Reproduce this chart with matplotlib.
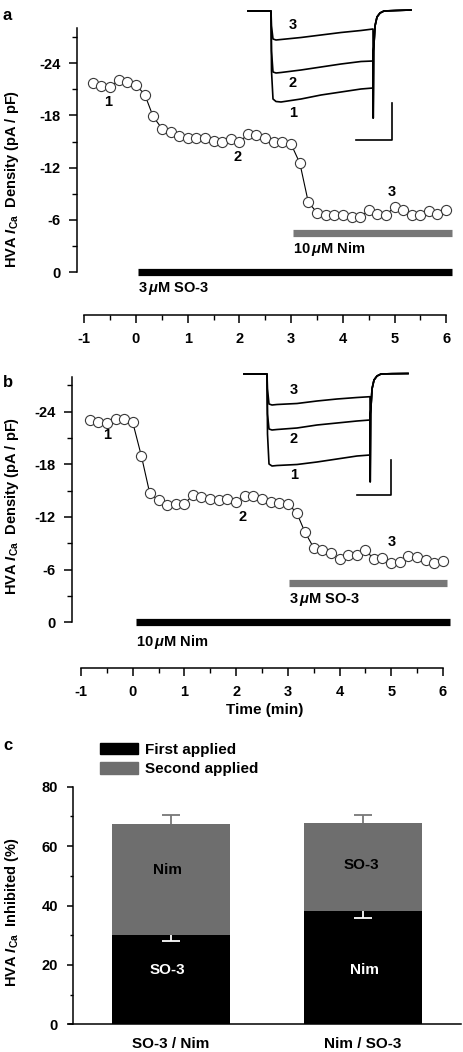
import matplotlib
matplotlib.use('Agg')
import matplotlib.pyplot as plt
from matplotlib.patches import Patch
from matplotlib.ticker import FixedLocator

plt.rcParams['font.family'] = ['Liberation Sans', 'DejaVu Sans']
plt.rcParams['font.weight'] = 'bold'
plt.rcParams['axes.labelweight'] = 'bold'
plt.rcParams['axes.unicode_minus'] = False
plt.rcParams['mathtext.fontset'] = 'custom'
plt.rcParams['mathtext.rm'] = 'Liberation Sans:bold'
plt.rcParams['mathtext.it'] = 'Liberation Sans:italic:bold'
plt.rcParams['mathtext.bf'] = 'Liberation Sans:bold'

# --- time course data (min, pA/pF) ---
time_min = [-0.83, -0.67, -0.5, -0.33, -0.17, 0.0, 0.17, 0.33, 0.5, 0.67,
            0.83, 1.0, 1.17, 1.33, 1.5, 1.67, 1.83, 2.0, 2.17, 2.33,
            2.5, 2.67, 2.83, 3.0, 3.17, 3.33, 3.5, 3.67, 3.83, 4.0,
            4.17, 4.33, 4.5, 4.67, 4.83, 5.0, 5.17, 5.33, 5.5, 5.67,
            5.83, 6.0]
density_a = [-21.7, -21.4, -21.3, -22.1, -21.9, -21.5, -20.4, -17.9, -16.5, -16.1,
             -15.6, -15.4, -15.4, -15.4, -15.1, -15.0, -15.3, -14.9, -15.9, -15.7,
             -15.4, -15.0, -14.9, -14.7, -12.5, -8.1, -6.8, -6.6, -6.6, -6.6,
             -6.3, -6.3, -7.1, -6.7, -6.5, -7.5, -7.1, -6.6, -6.5, -7.0,
             -6.7, -7.1]
density_b = [-23.0, -22.8, -22.7, -23.2, -23.2, -22.8, -18.9, -14.7, -13.9, -13.4,
             -13.5, -13.5, -14.5, -14.3, -14.0, -13.9, -14.0, -13.7, -14.4, -14.4,
             -14.0, -13.7, -13.6, -13.5, -12.5, -10.3, -8.5, -8.2, -7.9, -7.2,
             -7.7, -7.7, -8.2, -7.2, -7.3, -6.7, -6.9, -7.5, -7.4, -7.1,
             -6.7, -7.0]

# drug applications: (start, end) in min
first_drug_a = (0.03, 6.12)
second_drug_a = (3.03, 6.12)
first_drug_b = (0.07, 6.13)
second_drug_b = (3.02, 6.08)

# --- example current traces (ms, pA) ---
trace_t_a = [-23, 0, 0.5, 2, 5, 10, 30, 50, 70, 90, 102, 102.2, 102.6, 104, 106, 109, 113, 125, 140]
trace_a_1 = [0, 0, -600, -880, -905, -910, -880, -840, -810, -780, -770, -1070, -400, -150, -60, -20, 0, 5, 10]
trace_a_2 = [0, 0, -400, -610, -620, -615, -590, -560, -530, -505, -500, -1070, -400, -150, -60, -20, 0, 5, 10]
trace_a_3 = [0, 0, -150, -280, -290, -285, -265, -240, -215, -195, -180, -1070, -400, -150, -60, -20, 0, 5, 10]
trace_t_b = [-23, 0, 0.5, 2, 5, 10, 30, 50, 70, 90, 103, 103.2, 103.6, 105, 107, 110, 114, 125, 141]
trace_b_1 = [0, 0, -600, -900, -920, -915, -905, -880, -850, -820, -810, -1077, -400, -150, -60, -20, 0, 3, 5]
trace_b_2 = [0, 0, -400, -550, -560, -555, -540, -510, -490, -470, -460, -1077, -400, -150, -60, -20, 0, 3, 5]
trace_b_3 = [0, 0, -150, -300, -310, -305, -295, -270, -250, -235, -227, -1077, -400, -150, -60, -20, 0, 3, 5]
scale_a_t = [85, 121, 121]
scale_a_i = [-1290, -1290, -920]
scale_b_t = [89.7, 123.7, 123.7]
scale_b_i = [-1210, -1210, -860]

# --- summary bar data (%) ---
groups = ['SO-3 / Nim', 'Nim / SO-3']
first_applied = [30.0, 38.2]
first_err = [1.9, 2.3]
second_applied = [37.5, 29.7]
total_err = [3.1, 2.7]
first_names = ['SO-3', 'Nim']
second_names = ['Nim', 'SO-3']

W, H = 464, 1052
fig = plt.figure(figsize=(W / 100, H / 100), dpi=100)


def box(x0, y0, x1, y1):
    # pixel box (top-left origin) -> figure fraction
    return [x0 / W, 1 - y1 / H, (x1 - x0) / W, (y1 - y0) / H]


def style_axes(ax):
    for s in ['top', 'right']:
        ax.spines[s].set_visible(False)
    for s in ['left', 'bottom']:
        ax.spines[s].set_linewidth(1.1)
    ax.tick_params(which='major', length=6, width=1.1, labelsize=10.5, pad=6)
    ax.tick_params(which='minor', length=3.5, width=1.0)


def time_panel(rect, xlim, ylim, dens, drug1, drug2, lab1, lab2, lab1_pos, lab2_pos, nums):
    ax = fig.add_axes(rect)
    style_axes(ax)
    ax.set_xlim(*xlim)
    ax.set_ylim(*ylim)
    ax.spines['left'].set_bounds(-28, 0)
    ax.spines['bottom'].set_bounds(-1, 6)
    ax.set_yticks([-24, -18, -12, -6, 0])
    ax.yaxis.set_minor_locator(FixedLocator([-27, -21, -15, -9, -3]))
    ax.set_xticks(range(-1, 7))
    ax.xaxis.set_minor_locator(FixedLocator([-0.5, 0.5, 1.5, 2.5, 3.5, 4.5, 5.5]))
    ax.plot(time_min, dens, '-', color='black', lw=0.8, marker='o', ms=7.3,
            mfc='white', mec='#3a3a3a', mew=0.8, zorder=3)
    ax.hlines(0, drug1[0], drug1[1], color='black', lw=5.2)
    ax.hlines(-4.5, drug2[0], drug2[1], color='#777777', lw=5.2)
    ax.text(lab1_pos[0], lab1_pos[1], lab1, fontsize=10.5, va='center', ha='left')
    ax.text(lab2_pos[0], lab2_pos[1], lab2, fontsize=10.5, va='center', ha='left')
    for n, (tx, ty) in zip(['1', '2', '3'], nums):
        ax.text(tx, ty, n, fontsize=10.5, ha='center', va='center')
    ax.set_ylabel(r'HVA $\mathit{I}_{\mathrm{Ca}}$  Density (pA / pF)', fontsize=10.5)
    return ax


def trace_inset(rect, xlim, ylim, t, traces, scale_t, scale_i, label_t, label_i):
    ax = fig.add_axes(rect)
    ax.set_xlim(*xlim)
    ax.set_ylim(*ylim)
    ax.axis('off')
    for tr in traces:
        ax.plot(t, tr, color='black', lw=1.2)
    ax.plot(scale_t, scale_i, color='black', lw=1.2)
    for n, yi in zip(['1', '2', '3'], label_i):
        ax.text(label_t, yi, n, fontsize=10.5, ha='center', va='center')
    return ax


# panel a
ax_a = time_panel(box(77, 5, 458, 315), ((77 - 136) / 51.7, (458 - 136) / 51.7), (4.94, -30.7),
                  density_a, first_drug_a, second_drug_a,
                  r'3$\,\mu$M SO-3', r'10$\,\mu$M Nim', (0.03, 1.9), (3.03, -2.6),
                  [(-0.54, -19.5), (1.97, -13.2), (4.95, -9.2)])
ax_a.yaxis.set_label_coords((21 - 77) / 381, 0.44)
trace_inset(box(240, 5, 420, 145), (-31, 149), (-1340, 60), trace_t_a,
            [trace_a_1, trace_a_2, trace_a_3], scale_a_t, scale_a_i, 22, [-1020, -720, -140])

# panel b
ax_b = time_panel(box(72, 350, 458, 668), ((72 - 132.7) / 51.7, (458 - 132.7) / 51.7), (5.21, -31.03),
                  density_b, first_drug_b, second_drug_b,
                  r'10$\,\mu$M Nim', r'3$\,\mu$M SO-3', (0.07, 2.3), (3.02, -2.6),
                  [(-0.5, -21.4), (2.13, -12.0), (5.02, -9.2)])
ax_b.set_xlabel('Time (min)', fontsize=11, labelpad=3)
ax_b.yaxis.set_label_coords((21 - 72) / 386, 0.51)
trace_inset(box(235, 350, 415, 500), (-32, 148), (-1260, 240), trace_t_b,
            [trace_b_1, trace_b_2, trace_b_3], scale_b_t, scale_b_i, 27, [-1010, -650, -160])

# panel c
ax_c = fig.add_axes(box(72.7, 786.7, 461, 1024.3))
style_axes(ax_c)
ax_c.set_xlim(-0.512, 1.51)
ax_c.set_ylim(0, 80)
ax_c.set_yticks([0, 20, 40, 60, 80])
ax_c.yaxis.set_minor_locator(FixedLocator([10, 30, 50, 70]))
ax_c.tick_params(axis='y', which='major', length=4.5, pad=6)
ax_c.tick_params(axis='y', which='minor', length=2.5)
xs = list(range(len(groups)))
bw = 0.617
ax_c.bar(xs, first_applied, width=bw, color='black', zorder=2)
ax_c.bar(xs, second_applied, width=bw, bottom=first_applied, color='#6e6e6e', zorder=2)
tops = [f + s for f, s in zip(first_applied, second_applied)]
cap = 0.045
ax_c.vlines(xs, tops, [t + e for t, e in zip(tops, total_err)], color='#777777', lw=1.3, zorder=1)
ax_c.hlines([t + e for t, e in zip(tops, total_err)], [x - cap for x in xs], [x + cap for x in xs],
            color='#777777', lw=1.3, zorder=1)
ax_c.vlines(xs, first_applied, [f - e for f, e in zip(first_applied, first_err)], color='white', lw=1.3, zorder=3)
ax_c.hlines([f - e for f, e in zip(first_applied, first_err)], [x - cap for x in xs], [x + cap for x in xs],
            color='white', lw=1.3, zorder=3)
first_label_dx = [-0.02, 0.01]
second_label_dx = [-0.02, -0.01]
second_label_y = [52.0, 53.6]
for x, n1, n2, d1, d2, y2 in zip(xs, first_names, second_names, first_label_dx, second_label_dx, second_label_y):
    ax_c.text(x + d1, 18.3, n1, color='white', fontsize=11, ha='center', va='center')
    ax_c.text(x + d2, y2, n2, color='black', fontsize=11, ha='center', va='center')
ax_c.set_xticks(xs)
ax_c.set_xticklabels(groups, fontsize=11)
ax_c.tick_params(axis='x', length=0, pad=9)
ax_c.spines['bottom'].set_bounds(-0.53, 1.51)
ax_c.set_ylabel(r'HVA $\mathit{I}_{\mathrm{Ca}}$  Inhibited (%)', fontsize=10.5)
ax_c.yaxis.set_label_coords((21 - 72.7) / 388.3, 0.47)
ax_c.legend(handles=[Patch(color='black', label='First applied'),
                     Patch(color='#6e6e6e', label='Second applied')],
            loc='upper left', bbox_to_anchor=((100 - 72.7) / 388.3, (1024.3 - 743) / 237.6),
            frameon=False, fontsize=11, borderpad=0, borderaxespad=0,
            handlelength=2.5, handleheight=0.76, handletextpad=0.45, labelspacing=0.35)

# panel letters
fig.text(3 / W, 1 - 20 / H, 'a', fontsize=12)
fig.text(3 / W, 1 - 387 / H, 'b', fontsize=12)
fig.text(3 / W, 1 - 750 / H, 'c', fontsize=12)

fig.savefig('out.png', dpi=100)
